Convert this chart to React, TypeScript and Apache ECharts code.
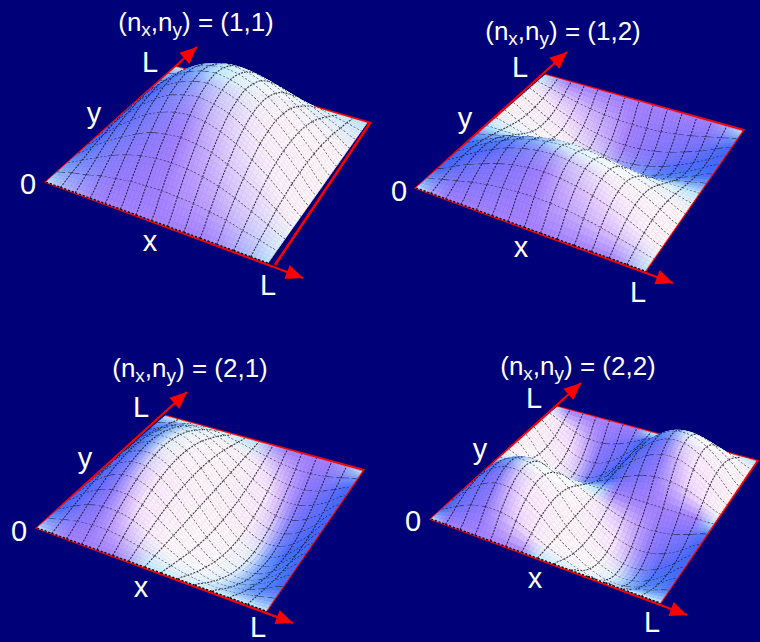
import React, { useEffect, useRef } from "react";
import * as echarts from "echarts";

// Surface heights, percent of peak; rows are y = 0..L, columns x = 0..L
const HEIGHTS_11 = [
  [0,0,0,0,0,0,0,0,0,0,0,0,0,0,0],
  [0,5,9,14,17,20,21,22,21,20,17,14,9,5,0],
  [0,9,18,27,34,39,42,43,42,39,34,27,18,9,0],
  [0,14,27,38,48,56,60,62,60,56,48,38,27,14,0],
  [0,17,34,48,61,70,76,78,76,70,61,48,34,17,0],
  [0,20,39,56,70,81,87,90,87,81,70,56,39,20,0],
  [0,21,42,60,76,87,94,97,94,87,76,60,42,21,0],
  [0,22,43,62,78,90,97,100,97,90,78,62,43,22,0],
  [0,21,42,60,76,87,94,97,94,87,76,60,42,21,0],
  [0,20,39,56,70,81,87,90,87,81,70,56,39,20,0],
  [0,17,34,48,61,70,76,78,76,70,61,48,34,17,0],
  [0,14,27,38,48,56,60,62,60,56,48,38,27,14,0],
  [0,9,18,27,34,39,42,43,42,39,34,27,18,9,0],
  [0,5,9,14,17,20,21,22,21,20,17,14,9,5,0],
  [0,0,0,0,0,0,0,0,0,0,0,0,0,0,0],
];
const HEIGHTS_12 = [
  [0,0,0,0,0,0,0,0,0,0,0,0,0,0,0],
  [0,9,18,27,34,39,42,43,42,39,34,27,18,9,0],
  [0,17,34,48,61,70,76,78,76,70,61,48,34,17,0],
  [0,21,42,60,76,87,94,97,94,87,76,60,42,21,0],
  [0,21,42,60,76,87,94,97,94,87,76,60,42,21,0],
  [0,17,34,48,61,70,76,78,76,70,61,48,34,17,0],
  [0,9,18,27,34,39,42,43,42,39,34,27,18,9,0],
  [0,0,0,0,0,0,0,0,0,0,0,0,0,0,0],
  [0,-9,-18,-27,-34,-39,-42,-43,-42,-39,-34,-27,-18,-9,0],
  [0,-17,-34,-48,-61,-70,-76,-78,-76,-70,-61,-48,-34,-17,0],
  [0,-21,-42,-60,-76,-87,-94,-97,-94,-87,-76,-60,-42,-21,0],
  [0,-21,-42,-60,-76,-87,-94,-97,-94,-87,-76,-60,-42,-21,0],
  [0,-17,-34,-48,-61,-70,-76,-78,-76,-70,-61,-48,-34,-17,0],
  [0,-9,-18,-27,-34,-39,-42,-43,-42,-39,-34,-27,-18,-9,0],
  [0,0,0,0,0,0,0,0,0,0,0,0,0,0,0],
];
const HEIGHTS_21 = [
  [0,0,0,0,0,0,0,0,0,0,0,0,0,0,0],
  [0,9,17,21,21,17,9,0,-9,-17,-21,-21,-17,-9,0],
  [0,18,34,42,42,34,18,0,-18,-34,-42,-42,-34,-18,0],
  [0,27,48,60,60,48,27,0,-27,-48,-60,-60,-48,-27,0],
  [0,34,61,76,76,61,34,0,-34,-61,-76,-76,-61,-34,0],
  [0,39,70,87,87,70,39,0,-39,-70,-87,-87,-70,-39,0],
  [0,42,76,94,94,76,42,0,-42,-76,-94,-94,-76,-42,0],
  [0,43,78,97,97,78,43,0,-43,-78,-97,-97,-78,-43,0],
  [0,42,76,94,94,76,42,0,-42,-76,-94,-94,-76,-42,0],
  [0,39,70,87,87,70,39,0,-39,-70,-87,-87,-70,-39,0],
  [0,34,61,76,76,61,34,0,-34,-61,-76,-76,-61,-34,0],
  [0,27,48,60,60,48,27,0,-27,-48,-60,-60,-48,-27,0],
  [0,18,34,42,42,34,18,0,-18,-34,-42,-42,-34,-18,0],
  [0,9,17,21,21,17,9,0,-9,-17,-21,-21,-17,-9,0],
  [0,0,0,0,0,0,0,0,0,0,0,0,0,0,0],
];
const HEIGHTS_22 = [
  [0,0,0,0,0,0,0,0,0,0,0,0,0,0,0],
  [0,18,34,42,42,34,18,0,-14,-26,-32,-32,-26,-14,0],
  [0,34,61,76,76,61,34,0,-26,-47,-58,-58,-47,-26,0],
  [0,42,76,94,94,76,42,0,-32,-58,-72,-72,-58,-32,0],
  [0,42,76,94,94,76,42,0,-32,-58,-72,-72,-58,-32,0],
  [0,34,61,76,76,61,34,0,-26,-47,-58,-58,-47,-26,0],
  [0,18,34,42,42,34,18,0,-14,-26,-32,-32,-26,-14,0],
  [0,0,0,0,0,0,0,0,0,0,0,0,0,0,0],
  [0,-18,-34,-42,-42,-34,-18,0,18,34,42,42,34,18,0],
  [0,-34,-61,-76,-76,-61,-34,0,34,61,76,76,61,34,0],
  [0,-42,-76,-94,-94,-76,-42,0,42,76,94,94,76,42,0],
  [0,-42,-76,-94,-94,-76,-42,0,42,76,94,94,76,42,0],
  [0,-34,-61,-76,-76,-61,-34,0,34,61,76,76,61,34,0],
  [0,-18,-34,-42,-42,-34,-18,0,18,34,42,42,34,18,0],
  [0,0,0,0,0,0,0,0,0,0,0,0,0,0,0],
];
const MODE_X = ["1", "1", "2", "2"];
const MODE_Y = ["1", "2", "1", "2"];
const AXIS_LABELS = ["0", "x", "y", "L", "L"];

type P = [number, number];
const PANELS = [
  { heights: HEIGHTS_11, lift: 0.82, O: [46, 182] as P, X: [268, 263] as P, XY: [367, 123] as P, Y: [176, 67] as P, fX: [275, 265] as P, fXY: [370, 123] as P, yTip: [197, 47] as P, xTip: [303, 278] as P, title: [196, 19] as P, labels: [[28, 184], [150, 241], [94, 113], [150, 62], [268, 285]] },
  { heights: HEIGHTS_12, lift: 0.42, O: [416, 188] as P, X: [645, 271] as P, XY: [742, 131] as P, Y: [545, 75] as P, fX: [645, 271] as P, fXY: [743, 130] as P, yTip: [567, 52] as P, xTip: [673, 283] as P, title: [563, 28] as P, labels: [[399, 191], [521, 247], [465, 118], [520, 67], [638, 292]] },
  { heights: HEIGHTS_21, lift: 0.42, O: [37, 528] as P, X: [266, 611] as P, XY: [362, 471] as P, Y: [165, 416] as P, fX: [266, 611] as P, fXY: [363, 470] as P, yTip: [187, 392] as P, xTip: [293, 623] as P, title: [190, 365] as P, labels: [[19, 531], [141, 587], [85, 458], [141, 407], [258, 627]] },
  { heights: HEIGHTS_22, lift: 0.42, O: [431, 519] as P, X: [660, 603] as P, XY: [756, 461] as P, Y: [557, 407] as P, fX: [660, 603] as P, fXY: [757, 461] as P, yTip: [581, 383] as P, xTip: [687, 615] as P, title: [578, 363] as P, labels: [[413, 521], [535, 578], [480, 449], [534, 398], [652, 622]] },
];

const N = 14;
const SUB = 4;

// perspective map of the unit square onto the panel's four floor corners
function homography(O: P, X: P, XY: P, Y: P) {
  const dx1 = X[0] - XY[0], dx2 = Y[0] - XY[0], sx = O[0] - X[0] + XY[0] - Y[0];
  const dy1 = X[1] - XY[1], dy2 = Y[1] - XY[1], sy = O[1] - X[1] + XY[1] - Y[1];
  const d = dx1 * dy2 - dx2 * dy1;
  const g = (sx * dy2 - dx2 * sy) / d;
  const h = (dx1 * sy - sx * dy1) / d;
  const a = X[0] - O[0] + g * X[0], b = Y[0] - O[0] + h * Y[0], c = O[0];
  const e = X[1] - O[1] + g * X[1], f = Y[1] - O[1] + h * Y[1], k = O[1];
  return (u: number, v: number) => {
    const w = g * u + h * v + 1;
    return { x: (a * u + b * v + c) / w, y: (e * u + f * v + k) / w, w };
  };
}
const FLOORS = PANELS.map((p) => homography(p.O, p.X, p.XY, p.Y));

type C = [number, number, number];
// shade by surface slope: columns dz/dx = -,0,+ ; rows dz/dy = -,0,+
const SHADES: C[][] = [
  [[255, 253, 255], [215, 245, 255], [95, 150, 255]],
  [[255, 246, 248], [188, 232, 255], [68, 108, 255]],
  [[252, 232, 255], [165, 130, 255], [115, 115, 255]],
];
const mix = (a: C, b: C, t: number): C => [a[0] + (b[0] - a[0]) * t, a[1] + (b[1] - a[1]) * t, a[2] + (b[2] - a[2]) * t];
function shade(gx: number, gy: number): C {
  const cl = (g: number) => Math.max(-1, Math.min(1, g / 2.3));
  const sm = (g: number) => Math.sign(g) * Math.pow(Math.abs(g), 0.75);
  const tx = sm(cl(gx)) + 1, ty = sm(cl(gy)) + 1;
  const ix = Math.min(1, Math.floor(tx)), iy = Math.min(1, Math.floor(ty));
  const lo = mix(SHADES[iy][ix], SHADES[iy][ix + 1], tx - ix);
  const hi = mix(SHADES[iy + 1][ix], SHADES[iy + 1][ix + 1], tx - ix);
  return mix(lo, hi, ty - iy);
}
const VERTEX_SHADES = PANELS.map((p) =>
  p.heights.map((row, j) =>
    row.map((_, i) => {
      const il = Math.max(0, i - 1), ir = Math.min(N, i + 1), jl = Math.max(0, j - 1), jr = Math.min(N, j + 1);
      const gx = ((row[ir] - row[il]) / (ir - il)) * (N / 100);
      const gy = ((p.heights[jr][i] - p.heights[jl][i]) / (jr - jl)) * (N / 100);
      return shade(gx, gy);
    })
  )
);

// smooth curve through four neighbouring table values, for drawing between grid nodes
const spline = (a: number, b: number, c: number, d: number, t: number) =>
  b + 0.5 * t * (c - a + t * (2 * a - 5 * b + 4 * c - d + t * (3 * (b - c) + d - a)));
const at = (i: number) => Math.max(0, Math.min(N, i));

function vertex(pi: number, u: number, v: number) {
  const p = PANELS[pi];
  const i = Math.min(N - 1, Math.floor(u)), j = Math.min(N - 1, Math.floor(v));
  const fu = u - i, fv = v - j, H = p.heights;
  const rowAt = (r: number) => {
    const row = H[at(r)];
    return spline(row[at(i - 1)], row[i], row[i + 1], row[at(i + 2)], fu);
  };
  const z = spline(rowAt(j - 1), rowAt(j), rowAt(j + 1), rowAt(j + 2), fv);
  const f = FLOORS[pi](u / N, v / N);
  return [f.x, f.y - (z * p.lift) / f.w];
}

const cells: number[][] = [];
PANELS.forEach((_, pi) => {
  const list: number[][] = [];
  for (let j = 0; j < N; j++) for (let i = 0; i < N; i++) {
    list.push([FLOORS[pi]((i + 0.5) / N, (j + 0.5) / N).y, pi, i, j]);
  }
  list.sort((a, b) => a[0] - b[0]);
  cells.push(...list);
});

function renderCell(params: any, api: any) {
  const pi = api.value(1), i = api.value(2), j = api.value(3);
  const S = VERTEX_SHADES[pi];
  const pt = (u: number, v: number) => api.coord(vertex(pi, u, v));
  const children: any[] = [];
  for (let b = 0; b < SUB; b++) for (let a = 0; a < SUB; a++) {
    const u0 = i + a / SUB, u1 = i + (a + 1) / SUB, v0 = j + b / SUB, v1 = j + (b + 1) / SUB;
    const fu = (a + 0.5) / SUB, fv = (b + 0.5) / SUB;
    const c = mix(mix(S[j][i], S[j][i + 1], fu), mix(S[j + 1][i], S[j + 1][i + 1], fu), fv);
    const col = `rgb(${c[0] | 0},${c[1] | 0},${c[2] | 0})`;
    children.push({
      type: "polygon",
      shape: { points: [pt(u0, v0), pt(u1, v0), pt(u1, v1), pt(u0, v1)] },
      style: { fill: col, stroke: col, lineWidth: 0.6 },
    });
  }
  const edge = (pts: number[][], stroke: string, dash: number[], w: number) => ({
    type: "polyline",
    shape: { points: pts },
    style: { fill: "none", stroke, lineWidth: w, lineDash: dash },
  });
  const run = (f: (t: number) => number[]) => [0, 0.25, 0.5, 0.75, 1].map(f);
  // y-running mesh line at this cell's left side, x-running mesh line at its front side
  if (i > 0) children.push(edge(run((t) => pt(i, j + t)), "rgba(25,25,45,0.85)", [2, 1.2], 1.1));
  const xLine = run((t) => pt(i + t, j));
  const first = xLine[0], last = xLine[4];
  const flat = Math.abs(last[1] - first[1]) < 0.14 * Math.abs(last[0] - first[0]);
  children.push(edge(xLine, "#000000", flat && j > 0 ? [8, 3] : [2.2, 1.8], 1.3));
  return { type: "group", children };
}

function makeOption(): any {
  const RED = "#ff0000";
  const graphic: any[] = [];
  PANELS.forEach((p) => {
    graphic.push({ type: "polyline", z: 1, shape: { points: [p.yTip, p.O, p.xTip] }, style: { fill: "none", stroke: RED, lineWidth: 2.2 } });
    graphic.push({ type: "polyline", z: 1, shape: { points: [p.fX, p.fXY, p.Y] }, style: { fill: "none", stroke: RED, lineWidth: 2.6 } });
    [p.yTip, p.xTip].forEach((tip) => {
      const dx = tip[0] - p.O[0], dy = tip[1] - p.O[1], len = Math.hypot(dx, dy);
      const ux = dx / len, uy = dy / len;
      const bx = tip[0] - ux * 17, by = tip[1] - uy * 17;
      graphic.push({
        type: "polygon", z: 1,
        shape: { points: [tip, [bx - uy * 7.5, by + ux * 7.5], [bx + uy * 7.5, by - ux * 7.5]] },
        style: { fill: RED },
      });
    });
    AXIS_LABELS.forEach((t, k) => {
      graphic.push({
        type: "text", z: 20,
        x: p.labels[k][0], y: p.labels[k][1],
        style: { text: t, fill: "#ffffff", font: '29px "Liberation Sans", Arial, sans-serif', textAlign: "center", textVerticalAlign: "middle" },
      });
    });
  });
  const title = PANELS.map((p, k) => ({
    text: `(n{s|x},n{s|y}) = (${MODE_X[k]},${MODE_Y[k]})`,
    left: p.title[0],
    top: p.title[1] - 15,
    textAlign: "center",
    padding: 0,
    textStyle: {
      color: "#fff",
      fontFamily: '"Liberation Sans", Arial, sans-serif',
      fontSize: 26,
      fontWeight: "normal",
      rich: {
        s: { color: "#fff", fontFamily: '"Liberation Sans", Arial, sans-serif', fontSize: 19, padding: [16, 0, 0, 0], verticalAlign: "bottom" },
      },
    },
  }));
  return {
    animation: false,
    backgroundColor: "#000078",
    title,
    grid: { left: 0, top: 0, right: 0, bottom: 0 },
    xAxis: { type: "value", min: 0, max: 760, show: false },
    yAxis: { type: "value", min: 0, max: 642, inverse: true, show: false },
    graphic,
    series: [
      {
        type: "custom",
        z: 5,
        clip: false,
        silent: true,
        renderItem: renderCell,
        encode: { x: 0, y: 0 },
        data: cells,
      },
    ],
  };
}

export default function App() {
  const ref = useRef<HTMLDivElement>(null);
  useEffect(() => {
    document.body.style.margin = "0";
    const chart = echarts.init(ref.current!, null, { renderer: "svg" });
    chart.setOption(makeOption());
    return () => chart.dispose();
  }, []);
  return <div ref={ref} style={{ width: 760, height: 642 }} />;
}
